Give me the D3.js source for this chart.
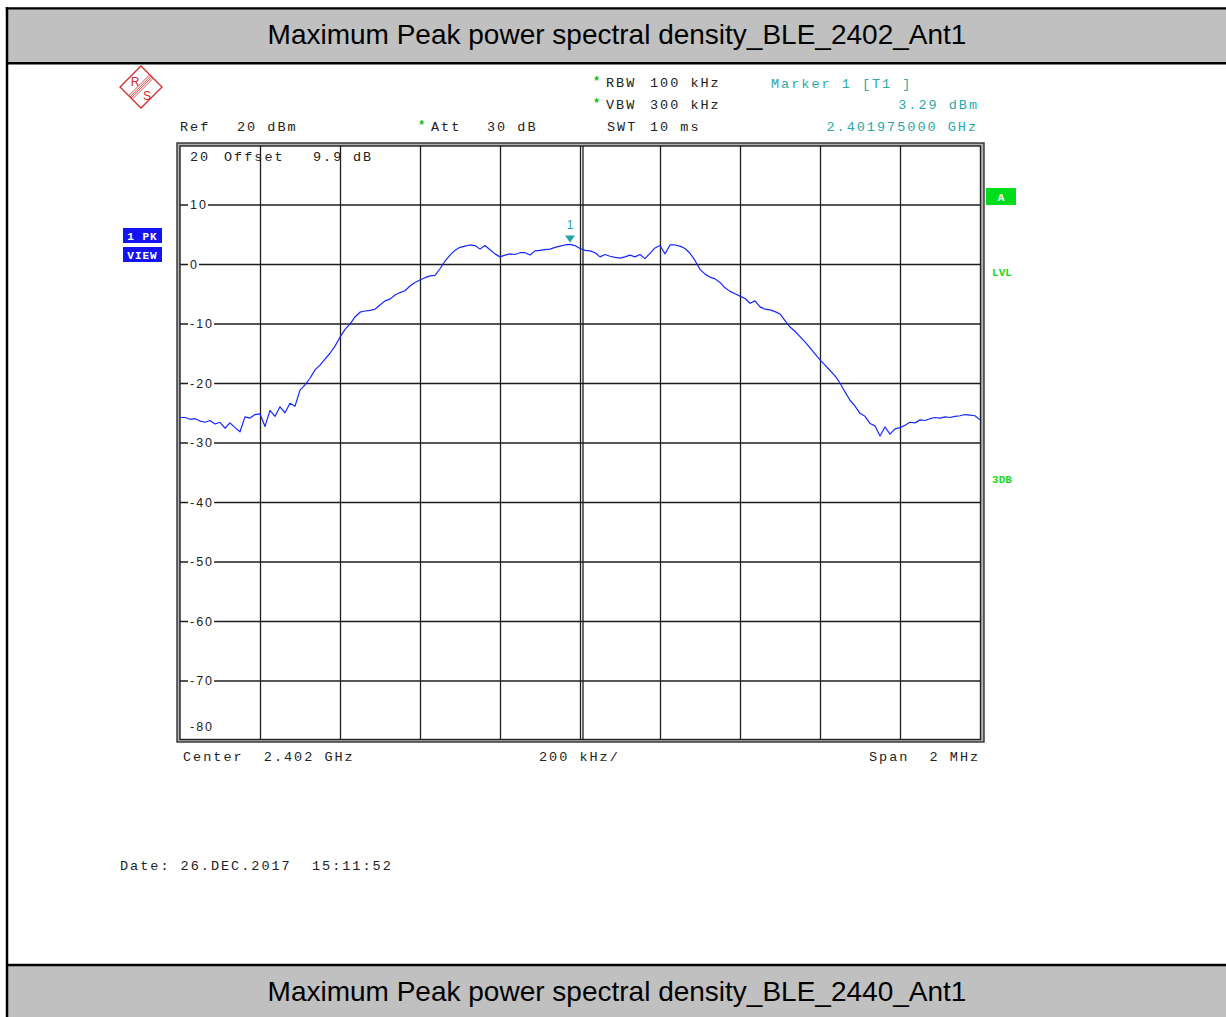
<!DOCTYPE html>
<html>
<head>
<meta charset="utf-8">
<script src="https://cdn.jsdelivr.net/npm/d3@7"></script>
<style>
  html, body { margin: 0; padding: 0; background: #fff; }
  svg { display: block; }
  text { white-space: pre; }
  .mono { font-family: "Liberation Mono", "DejaVu Sans Mono", monospace; font-size: 13.5px; letter-spacing: 2.0px; }
  .ylab { font-family: "Liberation Sans", Arial, sans-serif; font-size: 12.5px; letter-spacing: 2.0px; fill: #222; }
</style>
</head>
<body>
<svg id="chart" width="1226" height="1017"></svg>
<script>
// ---------------- data ----------------
const titleTop = "Maximum Peak power spectral density_BLE_2402_Ant1";
const titleBottom = "Maximum Peak power spectral density_BLE_2440_Ant1";
const startFreq = 2.401e9;      // Hz
const stopFreq = 2.403e9;       // Hz
const sweepStep = 12.5e3;       // Hz between trace points
// trace levels (dBm), one per sweep point from startFreq
const traceLevels = [
  -25.8,-25.8,-26.1,-26.0,-26.4,-26.6,-26.3,-26.9,-26.6,-27.6,
  -26.7,-27.5,-28.2,-25.7,-25.9,-25.3,-25.2,-27.3,-24.6,-25.6,
  -24.0,-25.0,-23.4,-23.9,-21.2,-20.3,-19.2,-17.8,-17.0,-16.0,
  -15.0,-13.8,-12.3,-11.0,-10.1,-8.9,-8.1,-7.9,-7.8,-7.6,
  -6.9,-6.2,-5.9,-5.2,-4.8,-4.5,-3.7,-3.1,-2.7,-2.3,
  -2.0,-1.9,-0.8,0.5,1.5,2.3,2.8,3.0,3.2,3.1,
  2.5,3.1,2.4,1.7,1.2,1.5,1.7,1.6,1.9,1.9,
  1.5,2.2,2.3,2.4,2.5,2.8,3.0,3.2,3.29,3.1,
  2.6,2.3,2.2,1.9,1.2,1.6,1.3,1.1,1.0,1.2,
  1.5,1.2,1.6,0.9,1.8,2.7,3.1,1.7,3.2,3.2,
  3.0,2.6,1.8,0.6,-0.9,-1.7,-2.2,-2.5,-3.1,-4.0,
  -4.6,-5.0,-5.4,-5.8,-6.6,-6.2,-7.2,-7.6,-7.7,-8.0,
  -8.4,-9.5,-10.6,-11.3,-12.2,-13.1,-14.1,-15.1,-16.1,-17.0,
  -17.9,-18.8,-20.0,-21.5,-22.9,-23.9,-25.1,-25.6,-26.8,-27.2,
  -28.9,-27.4,-28.6,-27.7,-27.5,-27.1,-26.6,-26.7,-26.2,-26.3,
  -26.0,-25.8,-25.9,-25.7,-25.8,-25.6,-25.5,-25.3,-25.4,-25.5,
  -26.2
];
const levelTicks = [10, 0, -10, -20, -30, -40, -50, -60, -70];
const levelTickLabels = ["10", "0", "-10", "-20", "-30", "-40", "-50", "-60", "-70"];
const refLevel = 20, bottomLevel = -80;
const freqGrid = [2.4012e9, 2.4014e9, 2.4016e9, 2.4018e9, 2.402e9, 2.4022e9, 2.4024e9, 2.4026e9, 2.4028e9];
const markerFreq = 2.401975e9;
const markerLevel = 3.29;
const markerLabel = "1";
const headerLeft = ["Ref", "20 dBm", "Att", "30 dB"];
const headerMid = ["RBW", "100 kHz", "VBW", "300 kHz", "SWT", "10 ms"];
const markerInfo = ["Marker 1 [T1 ]", "3.29 dBm", "2.401975000 GHz"];
const offsetText = ["20", "Offset", "9.9", "dB"];
const footerText = ["Center  2.402 GHz", "200 kHz/", "Span  2 MHz"];
const dateText = "Date: 26.DEC.2017  15:11:52";
const sideLeft = ["1 PK", "VIEW"];
const sideRight = ["A", "LVL", "3DB"];

// ---------------- drawing ----------------
const svg = d3.select("#chart");
svg.append("rect").attr("width", 1226).attr("height", 1017).attr("fill", "#fff");

// page frame and title bars
svg.append("rect").attr("x", 8).attr("y", 9).attr("width", 1218).attr("height", 54).attr("fill", "#c0c0c0");
svg.append("rect").attr("x", 8).attr("y", 966).attr("width", 1218).attr("height", 51).attr("fill", "#c0c0c0");
svg.append("path").attr("d", "M5.8,8.3H1226").attr("stroke", "#000").attr("stroke-width", 2.3);
svg.append("path").attr("d", "M7,7V1017").attr("stroke", "#000").attr("stroke-width", 2.5);
svg.append("path").attr("d", "M7,63.2H1226").attr("stroke", "#000").attr("stroke-width", 2.4);
svg.append("path").attr("d", "M7,965H1226").attr("stroke", "#000").attr("stroke-width", 2.4);
svg.append("text").attr("x", 617).attr("y", 43.5).attr("text-anchor", "middle")
  .style("font-family", "Liberation Sans, Arial, sans-serif").style("font-size", "28px").attr("fill", "#000")
  .text(titleTop);
svg.append("text").attr("x", 617).attr("y", 1000.5).attr("text-anchor", "middle")
  .style("font-family", "Liberation Sans, Arial, sans-serif").style("font-size", "28px").attr("fill", "#000")
  .text(titleBottom);

// scales
const x = d3.scaleLinear().domain([startFreq, stopFreq]).range([180, 980]);
const y = d3.scaleLinear().domain([bottomLevel, refLevel]).range([740, 145]);

// plot frame (double line)
svg.append("rect").attr("x", 177).attr("y", 143).attr("width", 807).attr("height", 599)
  .attr("fill", "#b4b4b4").attr("stroke", "#303030").attr("stroke-width", 1.4);
svg.append("rect").attr("x", 180).attr("y", 146).attr("width", 800.5).attr("height", 593.5)
  .attr("fill", "#fff").attr("stroke", "#202020").attr("stroke-width", 1.4);

// grid via axes
const gridColor = "#1e1e1e";
const gx = svg.append("g").attr("transform", "translate(0,146)")
  .call(d3.axisBottom(x).tickValues(freqGrid).tickSize(593.5).tickFormat(""));
gx.select(".domain").remove();
gx.selectAll("line").attr("stroke", gridColor).attr("stroke-width", 1.3);
// centre double line
svg.append("line").attr("x1", x(2.402e9) + 3).attr("x2", x(2.402e9) + 3).attr("y1", 146).attr("y2", 739.5)
  .attr("stroke", gridColor).attr("stroke-width", 1.3);

const gy = svg.append("g").attr("transform", "translate(180,0)")
  .call(d3.axisRight(y).tickValues(levelTicks).tickSize(800.5).tickFormat(""));
gy.select(".domain").remove();
gy.selectAll("line").attr("stroke", gridColor).attr("stroke-width", 1.3);

// y labels with white background
const ylabG = svg.append("g");
levelTicks.forEach((v, i) => {
  const t = ylabG.append("text").attr("class", "ylab").attr("x", 190).attr("y", y(v) + 4.5).text(levelTickLabels[i]);
  const bb = t.node().getBBox();
  ylabG.insert("rect", "text").attr("x", bb.x - 2).attr("y", bb.y).attr("width", bb.width + 2).attr("height", bb.height).attr("fill", "#fff");
});
ylabG.selectAll("text").raise();
svg.append("text").attr("class", "ylab").attr("x", 190).attr("y", 731).text("-80");

// offset text (over grid)
svg.append("text").attr("class", "mono").attr("x", 190).attr("y", 161).attr("fill", "#222").text(offsetText[0]);
svg.append("text").attr("class", "mono").attr("x", 224).attr("y", 161).attr("fill", "#222").text(offsetText[1]);
svg.append("text").attr("class", "mono").attr("x", 313).attr("y", 161).attr("fill", "#222").text(offsetText[2]);
svg.append("text").attr("class", "mono").attr("x", 353).attr("y", 161).attr("fill", "#222").text(offsetText[3]);

// trace
const traceData = traceLevels.map((v, i) => ({ f: startFreq + i * sweepStep, v }));
svg.append("path").datum(traceData)
  .attr("fill", "none").attr("stroke", "#1428ff").attr("stroke-width", 1.2).attr("stroke-linejoin", "round")
  .attr("d", d3.line().x(d => x(d.f)).y(d => y(d.v)));

// marker
const mx = x(markerFreq), my = y(markerLevel);
const markerColor = "#1fa3a3";
svg.append("path").attr("d", `M${mx - 5},${my - 9}L${mx + 5},${my - 9}L${mx},${my - 2}Z`).attr("fill", markerColor);
svg.append("text").attr("x", mx).attr("y", my - 15).attr("text-anchor", "middle")
  .style("font-family", "Liberation Sans, sans-serif").style("font-size", "12px").attr("fill", markerColor).text(markerLabel);

// header texts
const textCol = "#222";
function mono(xp, yp, s, col, anchor) {
  return svg.append("text").attr("class", "mono").attr("x", xp).attr("y", yp).attr("fill", col || textCol)
    .attr("text-anchor", anchor || "start").text(s);
}
function star(xp, yp) {
  svg.append("text").attr("x", xp).attr("y", yp).style("font-family", "Liberation Mono, monospace")
    .style("font-size", "12px").style("font-weight", "bold").attr("fill", "#10c010").text("*");
}
mono(180, 131, headerLeft[0]);
mono(237, 131, headerLeft[1]);
star(418, 129);
mono(431, 131, headerLeft[2]);
mono(487, 131, headerLeft[3]);
star(593, 85);
mono(606, 87, headerMid[0]);
mono(650, 87, headerMid[1]);
star(593, 107);
mono(606, 109, headerMid[2]);
mono(650, 109, headerMid[3]);
mono(607, 131, headerMid[4]);
mono(650, 131, headerMid[5]);
mono(771, 88, markerInfo[0], "#2aa8a8");
mono(979, 109, markerInfo[1], "#2aa8a8", "end");
mono(978, 131, markerInfo[2], "#2aa8a8", "end");

// footer
mono(183, 761, footerText[0]);
mono(539, 761, footerText[1]);
mono(869, 761, footerText[2]);
mono(120, 870, dateText);

// side labels left
const blue = "#1414f0";
[[228, sideLeft[0]], [247, sideLeft[1]]].forEach(([yy, s]) => {
  svg.append("rect").attr("x", 123).attr("y", yy).attr("width", 39).attr("height", 15).attr("fill", blue);
  svg.append("text").attr("x", 142.5).attr("y", yy + 11.5).attr("text-anchor", "middle")
    .style("font-family", "Liberation Mono, monospace").style("font-size", "11px").style("font-weight", "bold")
    .style("letter-spacing", "1px").attr("fill", "#fff").text(s);
});

// side labels right
const green = "#00dd1c";
svg.append("rect").attr("x", 986).attr("y", 188).attr("width", 30).attr("height", 17).attr("fill", green);
svg.append("text").attr("x", 1001).attr("y", 201).attr("text-anchor", "middle")
  .style("font-family", "Liberation Mono, monospace").style("font-size", "11px").style("font-weight", "bold").attr("fill", "#fff").text(sideRight[0]);
svg.append("text").attr("x", 1002).attr("y", 276).attr("text-anchor", "middle")
  .style("font-family", "Liberation Mono, monospace").style("font-size", "11px").style("font-weight", "bold").attr("fill", "#22d822").text(sideRight[1]);
svg.append("text").attr("x", 1002).attr("y", 483).attr("text-anchor", "middle")
  .style("font-family", "Liberation Mono, monospace").style("font-size", "11px").style("font-weight", "bold").attr("fill", "#22d822").text(sideRight[2]);

// R&S logo
const logo = svg.append("g").attr("transform", "translate(141,87)");
const red = "#d42a2a";
logo.append("path").attr("d", "M0,-21L21,0L0,21L-21,0Z").attr("fill", "#fff").attr("stroke", red).attr("stroke-width", 1.3);
[-2.5, -0.8, 0.8, 2.5].forEach(o => {
  logo.append("line").attr("x1", 10.5 + o * 0.707).attr("y1", -10.5 + o * 0.707)
    .attr("x2", -10.5 + o * 0.707).attr("y2", 10.5 + o * 0.707).attr("stroke", red).attr("stroke-width", 0.8);
});
logo.append("text").attr("x", -6).attr("y", -1).attr("text-anchor", "middle")
  .style("font-family", "Liberation Sans, sans-serif").style("font-size", "12px").attr("fill", red).text("R");
logo.append("text").attr("x", 6).attr("y", 13).attr("text-anchor", "middle")
  .style("font-family", "Liberation Sans, sans-serif").style("font-size", "12px").attr("fill", red).text("S");
</script>
</body>
</html>
